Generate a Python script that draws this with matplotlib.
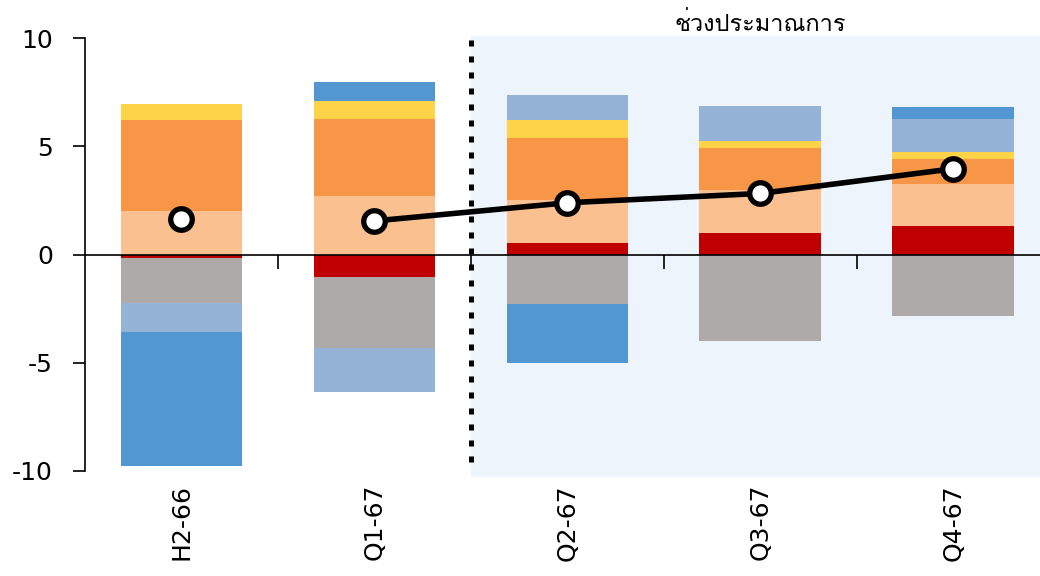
import numpy as np
import matplotlib
matplotlib.use('Agg')
import matplotlib.pyplot as plt
from matplotlib import font_manager
from matplotlib.ft2font import FT2Font
from matplotlib.patches import Rectangle
import matplotlib.transforms as mtransforms

# data
categories = ['H2-66', 'Q1-67', 'Q2-67', 'Q3-67', 'Q4-67']
red = [-0.15, -1.05, 0.52, 1.0, 1.3]
light_orange = [2.0, 2.68, 2.0, 1.97, 1.94]
orange = [4.2, 3.6, 2.86, 1.93, 1.16]
yellow = [0.75, 0.8, 0.85, 0.35, 0.32]
gray = [-2.1, -3.27, -2.3, -4.0, -2.82]
light_blue = [-1.35, -2.05, 1.15, 1.6, 1.53]
blue = [-6.15, 0.9, -2.7, 0.0, 0.56]
total = [1.62, 1.55, 2.39, 2.82, 3.96]
forecast_label = 'ช่วงประมาณการ'

series = [red, light_orange, orange, yellow, gray, light_blue, blue]
colors = ['#C00000', '#FAC090', '#F79646', '#FFD347', '#AEAAAA', '#95B3D7', '#5296D2']

plt.rcParams['axes.unicode_minus'] = False


# find an installed font that can draw Thai
def thai_font():
    for f in font_manager.fontManager.ttflist:
        try:
            if FT2Font(f.fname).get_char_index(0x0E0A):
                return f.name
        except Exception:
            pass
    return 'DejaVu Sans'


fig = plt.figure(figsize=(10.4, 5.76), dpi=100)
ax = fig.add_axes([85/1040, 1-471/576, 1-85/1040, (471-38)/576])

x = np.arange(len(categories))
pos_base = np.zeros(len(x))
neg_base = np.zeros(len(x))
for vals, c in zip(series, colors):
    v = np.array(vals)
    base = np.where(v >= 0, pos_base, neg_base)
    ax.bar(x, v, 0.63, bottom=base, color=c, zorder=2)
    pos_base += np.where(v >= 0, v, 0)
    neg_base += np.where(v < 0, v, 0)

# the line only joins Q1-67 onwards, H2-66 is a lone marker
ax.plot(x[1:], total[1:], color='black', lw=4, zorder=5)
ax.plot(x, total, linestyle='none', marker='o', ms=15.5, mfc='white',
        mec='black', mew=3.8, zorder=6)

# forecast shading and divider
ax.add_patch(Rectangle((1.5, -10.25), 3.2, 20.35, color='#EEF4FB', zorder=0, clip_on=False))
ax.plot([1.5, 1.5], [-9.6, 10], color='black', lw=3.6, linestyle=(0, (1.2, 2.0)),
        dash_capstyle='butt', zorder=7, clip_on=False)
ax.text(3.0, 10.65, forecast_label, ha='center', va='center', fontsize=17,
        family=[thai_font(), 'DejaVu Sans'])

ax.set_xlim(-0.5, 4.45)
ax.set_ylim(-10, 10)
ax.set_yticks([-10, -5, 0, 5, 10])
ax.tick_params(axis='y', labelsize=18, length=9, width=1.2, direction='out', pad=14)

ax.spines['top'].set_visible(False)
ax.spines['right'].set_visible(False)
ax.spines['bottom'].set_position(('data', 0))
ax.spines['bottom'].set_linewidth(1.2)
ax.spines['left'].set_linewidth(1.2)
ax.spines['bottom'].set_zorder(4)
ax.set_xticks([0.5, 1.5, 2.5, 3.5])
ax.set_xticklabels([])
ax.tick_params(axis='x', length=10, width=1.2, direction='out')

trans = mtransforms.blended_transform_factory(ax.transData, ax.transAxes)
for i, lab in enumerate(categories):
    ax.text(i, -0.03, lab, transform=trans, rotation=90, ha='center', va='top', fontsize=18)

fig.savefig('out.png', dpi=100)
